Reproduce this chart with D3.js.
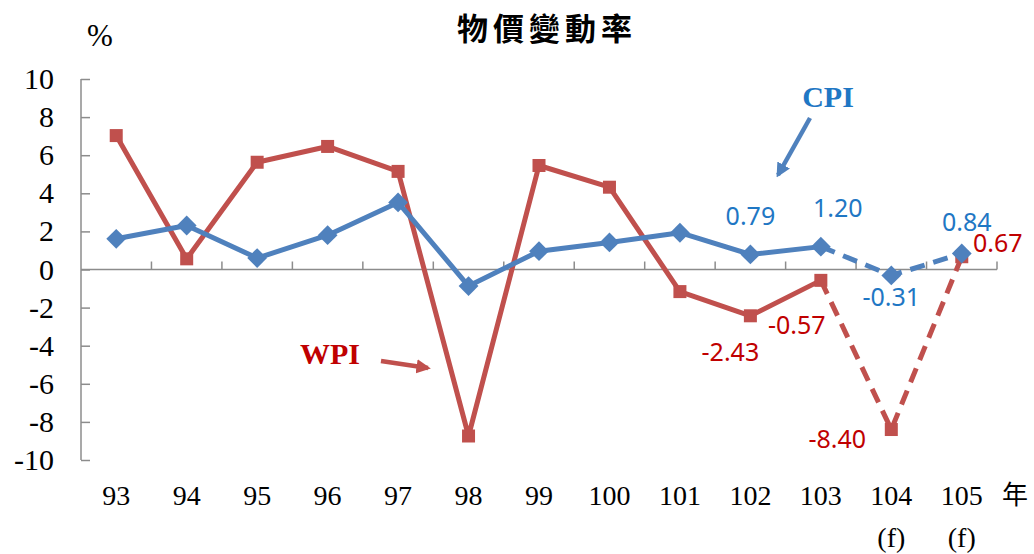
<!DOCTYPE html>
<html>
<head>
<meta charset="utf-8">
<script src="https://cdn.jsdelivr.net/npm/d3@7"></script>
<style>
  body { margin: 0; background: #fff; }
  svg { display: block; }
</style>
</head>
<body>
<div id="chart"></div>
<script>
var width = 1034;
var height = 554;

// chart data
var years = ["93", "94", "95", "96", "97", "98", "99", "100", "101", "102", "103", "104", "105"];
var forecast = ["", "", "", "", "", "", "", "", "", "", "", "(f)", "(f)"];
var cpi = [1.61, 2.31, 0.60, 1.80, 3.52, -0.87, 0.96, 1.42, 1.93, 0.79, 1.20, -0.31, 0.84];
var wpi = [7.03, 0.56, 5.63, 6.46, 5.15, -8.74, 5.46, 4.32, -1.16, -2.43, -0.57, -8.40, 0.67];
var yTicks = [-10, -8, -6, -4, -2, 0, 2, 4, 6, 8, 10];
var firstForecast = 11; // 104 and 105 are forecasts

var blueLine = "#4F81BD",
    redLine = "#C0504D",
    blueText = "#1F77C4",
    redText = "#C00000",
    axisCol = "#8c8c8c";

var svg = d3.select("#chart")
    .append("svg")
    .attr("width", width)
    .attr("height", height);

var plotL = 81, plotR = 997, plotT = 79, plotB = 460;

var x = d3.scaleBand()
    .domain(years)
    .range([plotL, plotR]);

var y = d3.scaleLinear()
    .domain([-10, 10])
    .range([plotB, plotT]);

function cx(i) { return x(years[i]) + x.bandwidth() / 2; }

// title
svg.append("text")
    .attr("x", 547)
    .attr("y", 40)
    .attr("text-anchor", "middle")
    .attr("font-family", "Noto Sans CJK TC")
    .attr("font-weight", "bold")
    .attr("font-size", 31)
    .attr("letter-spacing", 5)
    .text("物價變動率");

svg.append("text")
    .attr("x", 100)
    .attr("y", 46)
    .attr("text-anchor", "middle")
    .attr("font-family", "Liberation Serif")
    .attr("font-size", 31)
    .text("%");

// y axis
var yAxis = d3.axisRight(y)
    .tickValues(yTicks)
    .tickSize(9)
    .tickFormat("");
var gy = svg.append("g")
    .attr("transform", "translate(" + plotL + ",0)")
    .call(yAxis);
gy.select(".domain").attr("stroke", axisCol).attr("stroke-width", 1.5)
    .attr("d", "M0," + plotT + "V" + plotB);
gy.selectAll(".tick line").attr("stroke", axisCol).attr("stroke-width", 1.5);

svg.selectAll(".ylab")
    .data(yTicks)
    .enter()
    .append("text")
    .attr("class", "ylab")
    .attr("x", 54)
    .attr("y", function(d) { return y(d) + 10; })
    .attr("text-anchor", "end")
    .attr("font-family", "Liberation Serif")
    .attr("font-size", 30)
    .text(function(d) { return d; });

// x axis at zero line
svg.append("line")
    .attr("x1", plotL)
    .attr("x2", plotR)
    .attr("y1", y(0))
    .attr("y2", y(0))
    .attr("stroke", axisCol)
    .attr("stroke-width", 1.5);

var bounds = years.slice(1).map(function(d) { return x(d); }).concat([plotR]);
svg.selectAll(".xtick")
    .data(bounds)
    .enter()
    .append("line")
    .attr("x1", function(d) { return d; })
    .attr("x2", function(d) { return d; })
    .attr("y1", y(0))
    .attr("y2", y(0) - 8)
    .attr("stroke", axisCol)
    .attr("stroke-width", 1.5);

svg.selectAll(".xlab")
    .data(years)
    .enter()
    .append("text")
    .attr("x", function(d, i) { return cx(i); })
    .attr("y", 505)
    .attr("text-anchor", "middle")
    .attr("font-family", "Liberation Serif")
    .attr("font-size", 28)
    .text(function(d) { return d; });

svg.selectAll(".flab")
    .data(forecast)
    .enter()
    .append("text")
    .attr("x", function(d, i) { return cx(i); })
    .attr("y", 547)
    .attr("text-anchor", "middle")
    .attr("font-family", "Liberation Serif")
    .attr("font-size", 28)
    .text(function(d) { return d; });

svg.append("text")
    .attr("x", 1015)
    .attr("y", 504)
    .attr("text-anchor", "middle")
    .attr("font-family", "Noto Sans CJK TC")
    .attr("font-size", 26)
    .text("年");

// lines
var line = d3.line()
    .x(function(d) { return cx(d.i); })
    .y(function(d) { return y(d.v); });

function drawSeries(vals, col) {
    var pts = vals.map(function(v, i) { return { i: i, v: v }; });
    svg.append("path")
        .datum(pts.slice(0, firstForecast))
        .attr("d", line)
        .attr("fill", "none")
        .attr("stroke", col)
        .attr("stroke-width", 5)
        .attr("stroke-linejoin", "round");
    svg.append("path")
        .datum(pts.slice(firstForecast - 1))
        .attr("d", line)
        .attr("fill", "none")
        .attr("stroke", col)
        .attr("stroke-width", 5)
        .attr("stroke-dasharray", "15,9");
    return pts;
}

var wpiPts = drawSeries(wpi, redLine);
var cpiPts = drawSeries(cpi, blueLine);

svg.selectAll(".wpiMark")
    .data(wpiPts)
    .enter()
    .append("rect")
    .attr("x", function(d) { return cx(d.i) - 6.5; })
    .attr("y", function(d) { return y(d.v) - 6.5; })
    .attr("width", 13)
    .attr("height", 13)
    .attr("fill", redLine);

svg.selectAll(".cpiMark")
    .data(cpiPts)
    .enter()
    .append("path")
    .attr("d", d3.symbol().type(d3.symbolDiamond2).size(250))
    .attr("transform", function(d) { return "translate(" + cx(d.i) + "," + y(d.v) + ")"; })
    .attr("fill", blueLine);

// value labels for the last four years (offset from the point, px)
var cpiOff = { 9: [0, -38], 10: [17, -39], 11: [0, 22], 12: [5, -31] };
var wpiOff = { 9: [-20, 36], 10: [-24, 45], 11: [-54, 9], 12: [36, -14] };

function drawLabels(pts, off, col) {
    svg.selectAll(null)
        .data(pts.filter(function(d) { return off[d.i]; }))
        .enter()
        .append("text")
        .attr("x", function(d) { return cx(d.i) + off[d.i][0]; })
        .attr("y", function(d) { return y(d.v) + off[d.i][1]; })
        .attr("dy", "0.36em")
        .attr("text-anchor", "middle")
        .attr("font-family", "Noto Sans")
        .attr("font-size", 25)
        .attr("fill", col)
        .text(function(d) { return d.v.toFixed(2); });
}
drawLabels(cpiPts, cpiOff, blueText);
drawLabels(wpiPts, wpiOff, redText);

// series callouts with arrows
var defs = svg.append("defs");
function arrowHead(id, col) {
    defs.append("marker")
        .attr("id", id)
        .attr("viewBox", "0 0 10 10")
        .attr("refX", 8)
        .attr("refY", 5)
        .attr("markerWidth", 3.2)
        .attr("markerHeight", 3.2)
        .attr("orient", "auto")
        .append("path")
        .attr("d", "M0,0L10,5L0,10z")
        .attr("fill", col);
}
arrowHead("arrBlue", blueLine);
arrowHead("arrRed", redLine);

svg.append("text")
    .attr("x", 828)
    .attr("y", 107)
    .attr("text-anchor", "middle")
    .attr("font-family", "Liberation Serif")
    .attr("font-weight", "bold")
    .attr("font-size", 30)
    .attr("fill", blueText)
    .text("CPI");
svg.append("line")
    .attr("x1", 810).attr("y1", 118)
    .attr("x2", 778).attr("y2", 175)
    .attr("stroke", blueLine)
    .attr("stroke-width", 4.5)
    .attr("marker-end", "url(#arrBlue)");

svg.append("text")
    .attr("x", 330)
    .attr("y", 364)
    .attr("text-anchor", "middle")
    .attr("font-family", "Liberation Serif")
    .attr("font-weight", "bold")
    .attr("font-size", 30)
    .attr("fill", redText)
    .text("WPI");
svg.append("line")
    .attr("x1", 381).attr("y1", 361)
    .attr("x2", 428).attr("y2", 368)
    .attr("stroke", redLine)
    .attr("stroke-width", 4.5)
    .attr("marker-end", "url(#arrRed)");
</script>
</body>
</html>
